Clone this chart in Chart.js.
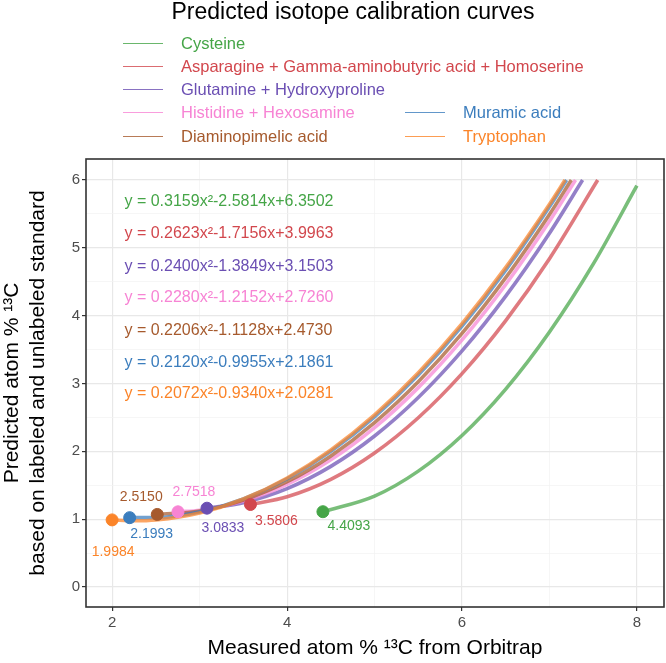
<!DOCTYPE html>
<html>
<head>
<meta charset="utf-8">
<script src="https://cdn.jsdelivr.net/npm/chart.js@4/dist/chart.umd.min.js"></script>
<style>
body { margin: 0; background: #fff; font-family: "Liberation Sans", Arial, sans-serif; }
#wrap { position: relative; width: 666px; height: 663px; }
#title { position: absolute; left: 0; width: 706px; top: -2px; text-align: center; font-size: 23px; line-height: 26px; color: #000; }
.key { position: absolute; height: 0; border-top: 1.6px solid; width: 40px; }
.lab { position: absolute; font-size: 16.5px; line-height: 18px; white-space: nowrap; }
</style>
</head>
<body>
<div id="wrap">
<canvas id="chart" width="666" height="663"></canvas>
<div id="title">Predicted isotope calibration curves</div>
<div id="legend"></div>
</div>
<script>
/*
 * 数据：各曲线的点 (x = measured, y = predicted)
 */
var curveNames = ["Cysteine", "Asparagine + Gamma-aminobutyric acid + Homoserine", "Glutamine + Hydroxyproline",
	"Histidine + Hexosamine", "Diaminopimelic acid", "Muramic acid", "Tryptophan"];
var curveColors = ["#45a547", "#d2474d", "#6b4fb3", "#f784d4", "#a65a2d", "#3b7dbd", "#fb8429"];
var equations = ["y = 0.3159x²-2.5814x+6.3502", "y = 0.2623x²-1.7156x+3.9963", "y = 0.2400x²-1.3849x+3.1503",
	"y = 0.2280x²-1.2152x+2.7260", "y = 0.2206x²-1.1128x+2.4730", "y = 0.2120x²-0.9955x+2.1861",
	"y = 0.2072x²-0.9340x+2.0281"];
var startLabels = ["4.4093", "3.5806", "3.0833", "2.7518", "2.5150", "2.1993", "1.9984"];

var cysteine = [[4.4093, 1.1098], [5, 1.3407], [5.5, 1.7085], [6, 2.2342], [6.5, 2.9179], [7, 3.7595], [7.5, 4.7591], [8, 5.9166]];
var asparagine = [[3.5806, 1.2163], [4, 1.3307], [4.5, 1.5877], [5, 1.9758], [5.5, 2.4951], [6, 3.1455], [6.5, 3.9271], [7, 4.8398], [7.552, 6]];
var glutamine = [[3.0833, 1.1618], [3.5, 1.2431], [4, 1.4507], [4.5, 1.7782], [5, 2.2258], [5.5, 2.7933], [6, 3.4809], [6.5, 4.2884], [7, 5.216], [7.379, 6]];
var histidine = [[2.7518, 1.1085], [3, 1.1324], [3.5, 1.2658], [4, 1.5132], [4.5, 1.8746], [5, 2.35], [5.5, 2.9394], [6, 3.6428], [6.5, 4.4602], [7, 5.3916], [7.298, 6]];
var diaminopimelic = [[2.515, 1.0696], [3, 1.12], [3.5, 1.2806], [4, 1.5514], [4.5, 1.9326], [5, 2.424], [5.5, 3.0258], [6, 3.7378], [6.5, 4.5602], [7, 5.4928], [7.25, 6]];
var muramic = [[2.1993, 1.0221], [2.5, 1.0223], [3, 1.1076], [3.5, 1.2988], [4, 1.5961], [4.5, 1.9993], [5, 2.5086], [5.5, 3.1238], [6, 3.8451], [6.5, 4.6723], [7, 5.6056], [7.196, 6]];
var tryptophan = [[1.9984, 0.9891], [2.25, 0.9756], [2.5, 0.9881], [3, 1.0909], [3.5, 1.2973], [4, 1.6073], [4.5, 2.0209], [5, 2.5381], [5.5, 3.1589], [6, 3.8833], [6.5, 4.7113], [7, 5.6429], [7.178, 6]];

var curves = [cysteine, asparagine, glutamine, histidine, diaminopimelic, muramic, tryptophan];
var xTicks = [2, 3, 4, 5, 6, 7, 8];
var yTicks = [0, 0.5, 1, 1.5, 2, 2.5, 3, 3.5, 4, 4.5, 5, 5.5, 6];

function alpha(hex, a) {
	var r = parseInt(hex.substr(1, 2), 16), g = parseInt(hex.substr(3, 2), 16), b = parseInt(hex.substr(5, 2), 16);
	return "rgba(" + r + "," + g + "," + b + "," + a + ")";
}

/*
 * 图例 (两列，按列排列)
 */
var legendPos = [[123, 43], [123, 66], [123, 89], [123, 112], [123, 136], [405, 112], [405, 136]];
var legendHtml = "";
for (var i = 0; i < curveNames.length; i++) {
	var lx = legendPos[i][0], ly = legendPos[i][1];
	legendHtml += '<div class="key" style="left:' + lx + 'px;top:' + ly + 'px;border-color:' + alpha(curveColors[i], 0.8) + '"></div>';
	legendHtml += '<div class="lab" style="left:' + (lx + 58) + 'px;top:' + (ly - 9) + 'px;color:' + curveColors[i] + '">' + curveNames[i] + '</div>';
}
document.getElementById("legend").innerHTML = legendHtml;

var datasets = [];
for (var i = 0; i < curves.length; i++) {
	datasets.push({
		label: curveNames[i],
		data: curves[i].map(function (p) { return { x: p[0], y: p[1] }; }),
		showLine: true,
		borderColor: alpha(curveColors[i], 0.72),
		borderWidth: 3.6,
		pointRadius: 0,
		cubicInterpolationMode: "monotone",
		order: curves.length - i
	});
}
datasets.push({
	label: "start",
	data: curves.map(function (c) { return { x: c[0][0], y: c[0][1] }; }),
	pointRadius: 6,
	pointBackgroundColor: curveColors,
	pointBorderColor: curveColors,
	order: 0
});

var labelOffsets = [[26, 14], [26, 17], [16, 20], [16, -20], [-16, -17], [22, 16], [1, 32]];
var eqX = 2.14;
var eqY = [5.68, 5.21, 4.73, 4.27, 3.78, 3.31, 2.85];

var annotPlugin = {
	id: "annot",
	afterDatasetsDraw: function (chart) {
		var ctx = chart.ctx, xs = chart.scales.x, ys = chart.scales.y;
		ctx.save();
		ctx.font = '16px "Liberation Sans", Arial, sans-serif';
		ctx.textAlign = "left";
		ctx.textBaseline = "middle";
		for (var i = 0; i < equations.length; i++) {
			ctx.fillStyle = curveColors[i];
			ctx.fillText(equations[i], xs.getPixelForValue(eqX), ys.getPixelForValue(eqY[i]));
		}
		ctx.font = '14px "Liberation Sans", Arial, sans-serif';
		ctx.textAlign = "center";
		for (var i = 0; i < curves.length; i++) {
			var px = xs.getPixelForValue(curves[i][0][0]), py = ys.getPixelForValue(curves[i][0][1]);
			ctx.fillStyle = curveColors[i];
			ctx.fillText(startLabels[i], px + labelOffsets[i][0], py + labelOffsets[i][1]);
		}
		ctx.restore();
	},
	afterDraw: function (chart) {
		var a = chart.chartArea, ctx = chart.ctx;
		ctx.save();
		ctx.strokeStyle = "#333333";
		ctx.lineWidth = 1.6;
		ctx.strokeRect(a.left, a.top, a.right - a.left, a.bottom - a.top);
		ctx.restore();
	}
};

function isMajor(v, step) { return Math.abs(v / step - Math.round(v / step)) < 1e-6; }

var tickFont = { family: '"Liberation Sans", Arial, sans-serif', size: 15 };
var titleFont = { family: '"Liberation Sans", Arial, sans-serif', size: 21 };

new Chart(document.getElementById("chart").getContext("2d"), {
	type: "scatter",
	data: { datasets: datasets },
	options: {
		responsive: false,
		animation: false,
		layout: { autoPadding: false, padding: { top: 159, right: 2, left: 0, bottom: 0 } },
		plugins: { legend: { display: false }, tooltip: { enabled: false } },
		scales: {
			x: {
				min: 1.7, max: 8.31,
				afterBuildTicks: function (s) { s.ticks = xTicks.map(function (v) { return { value: v }; }); },
				afterFit: function (s) { s.height = 56; s.paddingLeft = 0; s.paddingRight = 0; },
				ticks: {
					font: tickFont, color: "#4d4d4d", padding: 3, maxRotation: 0, autoSkip: false,
					callback: function (v) { return isMajor(v, 2) ? v : ""; }
				},
				grid: {
					color: function (c) { return isMajor(c.tick.value, 2) ? "#e8e8e8" : "#f2f2f2"; },
					lineWidth: function (c) { return isMajor(c.tick.value, 2) ? 1.2 : 0.7; },
					tickColor: function (c) { return isMajor(c.tick.value, 2) ? "#333333" : "rgba(0,0,0,0)"; },
					tickWidth: 1.2,
					tickLength: 4
				},
				border: { display: false },
				title: { display: true, text: "Measured atom % ¹³C from Orbitrap", font: titleFont, color: "#000", padding: { top: 0, bottom: 2 } }
			},
			y: {
				min: -0.295, max: 6.31,
				afterBuildTicks: function (s) { s.ticks = yTicks.map(function (v) { return { value: v }; }); },
				afterFit: function (s) { s.width = 86; s.paddingTop = 0; s.paddingBottom = 0; },
				ticks: {
					font: tickFont, color: "#4d4d4d", padding: 2, autoSkip: false,
					callback: function (v) { return isMajor(v, 1) ? v : ""; }
				},
				grid: {
					color: function (c) { return isMajor(c.tick.value, 1) ? "#e8e8e8" : "#f2f2f2"; },
					lineWidth: function (c) { return isMajor(c.tick.value, 1) ? 1.2 : 0.7; },
					tickColor: function (c) { return isMajor(c.tick.value, 1) ? "#333333" : "rgba(0,0,0,0)"; },
					tickWidth: 1.2,
					tickLength: 4
				},
				border: { display: false },
				title: {
					display: true, text: ["Predicted atom % ¹³C", "based on labeled and unlabeled standard"],
					font: { family: '"Liberation Sans", Arial, sans-serif', size: 21, lineHeight: 1.2 }, color: "#000", padding: 0
				}
			}
		}
	},
	plugins: [annotPlugin]
});
</script>
</body>
</html>
